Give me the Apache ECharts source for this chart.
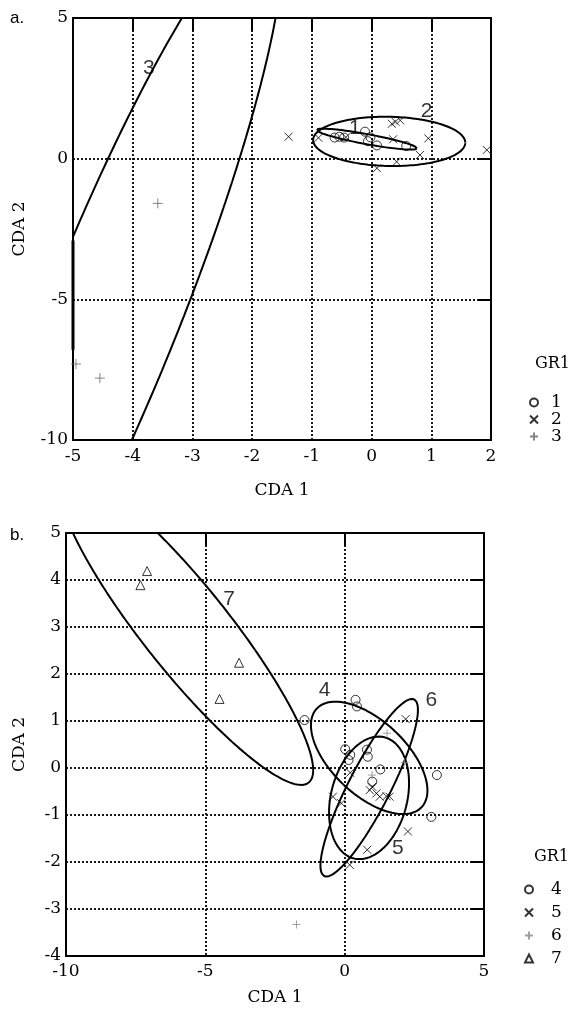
<!DOCTYPE html>
<html><head><meta charset="utf-8">
<script src="https://cdn.jsdelivr.net/npm/echarts@6/dist/echarts.min.js"></script>
<style>html,body{margin:0;padding:0;background:#fff}#c{width:577px;height:1009px}</style>
</head><body><div id="c"></div><script>
// ---------- Panel a ----------
const aGroups = ['1', '2', '3'];
const aG1 = [[-0.62,0.75],[-0.54,0.78],[-0.46,0.75],[-0.11,0.96],[-0.02,0.76],[-0.06,0.62],[0.09,0.47],[0.58,0.45]];
const aG2 = [[-1.39,0.78],[-0.89,0.74],[-0.43,0.76],[0.34,1.24],[0.40,1.31],[0.48,1.36],[0.36,0.69],[0.95,0.72],[0.81,0.13],[0.42,-0.11],[0.09,-0.34],[1.93,0.31]];
const aG3 = [[-3.58,-1.59],[-4.95,-7.3],[-4.55,-7.8]];
// ellipse: [cx, cy, varX, varY, covXY]
const aEll1 = [-0.08, 0.695, 0.706, 0.138, -0.273];
const aEll2 = [0.295, 0.615, 1.626, 0.766, -0.06];
const aEll3 = [-4.34, -5.58, 8.05, 195, 35.9];
const aLabelNames = ['1', '2', '3'];
const aLabelPos = [[-0.28,1.10],[0.92,1.70],[-3.73,3.22]];
const aX = [-5, 2, 1];   // min, max, interval
const aY = [-10, 5, 5];

// ---------- Panel b ----------
const bGroups = ['4', '5', '6', '7'];
const bG4 = [[-1.44,1.02],[0.39,1.45],[0.44,1.31],[0.02,0.40],[0.20,0.28],[0.14,0.17],[0.80,0.39],[0.83,0.24],[1.28,-0.03],[0.99,-0.29],[3.31,-0.15],[3.11,-1.04]];
const bG5 = [[2.19,1.04],[0.20,-0.10],[-0.42,-0.61],[-0.12,-0.75],[0.90,-0.47],[1.14,-0.54],[1.26,-0.61],[1.50,-0.60],[1.61,-0.61],[2.27,-1.35],[0.81,-1.74],[0.18,-2.06],[0.99,-0.40]];
const bG6 = [[1.52,0.74],[2.15,0.12],[0.98,-0.15],[-1.73,-3.33]];
const bG7 = [[-7.09,4.19],[-7.33,3.89],[-3.79,2.24],[-4.49,1.47]];
const bEll4 = [0.88, 0.215, 4.37, 1.43, -1.45];
const bEll5 = [0.875, -0.635, 2.06, 1.70, 0.45];
const bEll6 = [0.88, -0.42, 3.06, 3.57, 2.9];
const bEll7 = [-5.68, 2.95, 20.7, 10.96, -13.63];
const bLabelNames = ['7', '4', '6', '5'];
const bLabelPos = [[-4.15,3.6],[-0.72,1.66],[3.11,1.45],[1.91,-1.71]];
const bX = [-10, 5, 5];
const bY = [-4, 5, 1];

// ---------- helpers ----------
function ellipse(p, n) {
  n = n || 360;
  const [cx, cy, sxx, syy, sxy] = p;
  const a = Math.sqrt(sxx), b = sxy / a, d = Math.sqrt(syy - b * b);
  const pts = [];
  for (let i = 0; i <= n; i++) {
    const t = 2 * Math.PI * i / n;
    pts.push([cx + a * Math.cos(t), cy + b * Math.cos(t) + d * Math.sin(t)]);
  }
  return pts;
}
// part of ellipse 3 lying just outside the left border is drawn on the border (as in the original plot)
function borderRun(p, xmin, ymin, ymax, tol) {
  const ys = ellipse(p).filter(q => q[0] < xmin && q[0] > xmin - tol && q[1] > ymin && q[1] < ymax).map(q => q[1]);
  if (!ys.length) return [];
  return [[xmin, Math.max.apply(null, ys)], [xmin, Math.min.apply(null, ys)]];
}

const SERIF = 'DejaVu Serif';
const SANS = 'Liberation Sans';
const grid = [
  { left: 73, top: 18, width: 418, height: 422 },
  { left: 66, top: 533, width: 418, height: 423 }
];
const gridLine = { show: true, lineStyle: { color: '#000', type: [2, 2], width: 1.8 } };
const axLine = { show: true, onZero: false, lineStyle: { color: '#000', width: 2 } };

function mainX(gi, r, gap, margin) {
  return { type: 'value', gridIndex: gi, min: r[0], max: r[1], interval: r[2], position: 'bottom',
    axisLine: axLine, axisTick: { show: false }, splitLine: gridLine,
    axisLabel: { color: '#000', fontFamily: SERIF, fontSize: 17, margin: margin },
    name: 'CDA 1', nameLocation: 'middle', nameGap: gap,
    nameTextStyle: { color: '#000', fontFamily: SERIF, fontSize: 17 } };
}
function topX(gi, r) {
  return { type: 'value', gridIndex: gi, min: r[0], max: r[1], interval: r[2], position: 'top',
    axisLine: axLine, axisTick: { show: true, inside: true, length: 13, lineStyle: { color: '#000', width: 2 } },
    splitLine: { show: false }, axisLabel: { show: false } };
}
function mainY(gi, r, gap) {
  return { type: 'value', gridIndex: gi, min: r[0], max: r[1], interval: r[2], position: 'left',
    axisLine: axLine, axisTick: { show: false }, splitLine: gridLine,
    axisLabel: { color: '#000', fontFamily: SERIF, fontSize: 17, margin: 5 },
    name: 'CDA 2', nameLocation: 'middle', nameGap: gap, nameRotate: 90,
    nameTextStyle: { color: '#000', fontFamily: SERIF, fontSize: 17 } };
}
function rightY(gi, r) {
  return { type: 'value', gridIndex: gi, min: r[0], max: r[1], interval: r[2], position: 'right',
    axisLine: axLine, axisTick: { show: true, inside: true, length: 13, lineStyle: { color: '#000', width: 2 } },
    splitLine: { show: false }, axisLabel: { show: false } };
}

const SYM = {
  circle: { symbol: 'circle', size: 9, color: '#000' },
  cross: { symbol: 'path://M0,0L10,10M10,0L0,10', size: 8, color: '#000' },
  plus: { symbol: 'path://M5,0L5,10M0,5L10,5', size: 10, color: '#666' },
  plusLight: { symbol: 'path://M5,0L5,10M0,5L10,5', size: 8, color: '#888' },
  triangle: { symbol: 'triangle', size: 9, color: '#000' }
};
function pts(name, data, s, xi, yi) {
  return { type: 'scatter', name: name, xAxisIndex: xi, yAxisIndex: yi, data: data,
    symbol: s.symbol, symbolSize: s.size,
    itemStyle: { color: 'transparent', borderColor: s.color, borderWidth: 1 }, z: 5, silent: true };
}
function ell(data, xi, yi, w) {
  return { type: 'line', xAxisIndex: xi, yAxisIndex: yi, data: data, showSymbol: false, symbol: 'none',
    lineStyle: { color: '#000', width: w || 2 }, clip: true, z: 4, silent: true };
}
function labels(names, pos, xi, yi) {
  return { type: 'scatter', xAxisIndex: xi, yAxisIndex: yi, symbolSize: 1,
    itemStyle: { color: 'transparent' }, silent: true, z: 6,
    data: names.map((n, i) => ({ name: n, value: pos[i] })),
    label: { show: true, position: 'inside', formatter: '{b}', color: '#000', fontFamily: SANS, fontSize: 21 } };
}

const series = [
  ell(ellipse(aEll1), 0, 0), ell(ellipse(aEll2), 0, 0), ell(ellipse(aEll3), 0, 0),
  ell(borderRun(aEll3, aX[0], aY[0], aY[1], 0.8), 0, 0, 3),
  pts(aGroups[0], aG1, SYM.circle, 0, 0),
  pts(aGroups[1], aG2, SYM.cross, 0, 0),
  pts(aGroups[2], aG3, SYM.plus, 0, 0),
  labels(aLabelNames, aLabelPos, 0, 0),
  ell(ellipse(bEll4), 2, 2), ell(ellipse(bEll5), 2, 2), ell(ellipse(bEll6), 2, 2), ell(ellipse(bEll7), 2, 2),
  pts(bGroups[0], bG4, SYM.circle, 2, 2),
  pts(bGroups[1], bG5, SYM.cross, 2, 2),
  pts(bGroups[2], bG6, SYM.plusLight, 2, 2),
  pts(bGroups[3], bG7, SYM.triangle, 2, 2),
  labels(bLabelNames, bLabelPos, 2, 2)
];

const legendText = { color: '#000', fontFamily: SERIF, fontSize: 17 };
const option = {
  animation: false,
  backgroundColor: '#fff',
  title: [
    { text: 'a.', left: 10, top: 10, padding: 0, textStyle: { fontFamily: SANS, fontSize: 17, fontWeight: 'normal', color: '#000' } },
    { text: 'b.', left: 10, top: 527, padding: 0, textStyle: { fontFamily: SANS, fontSize: 17, fontWeight: 'normal', color: '#000' } },
    { text: 'GR1', left: 535, top: 356, padding: 0, textStyle: { fontFamily: SERIF, fontSize: 16, fontWeight: 'normal', color: '#000' } },
    { text: 'GR1', left: 534, top: 849, padding: 0, textStyle: { fontFamily: SERIF, fontSize: 16, fontWeight: 'normal', color: '#000' } }
  ],
  legend: [
    { data: aGroups, orient: 'vertical', left: 529, top: 394, padding: 0, itemGap: 0, itemWidth: 8, itemHeight: 8,
      textStyle: Object.assign({ lineHeight: 15, padding: [0, 0, 0, 8] }, legendText), selectedMode: false },
    { data: bGroups, orient: 'vertical', left: 524, top: 881, padding: 0, itemGap: 6, itemWidth: 8, itemHeight: 8,
      textStyle: Object.assign({ lineHeight: 16, padding: [0, 0, 0, 13] }, legendText), selectedMode: false }
  ],
  grid: grid,
  xAxis: [mainX(0, aX, 42, 8), topX(0, aX), mainX(1, bX, 33, 7), topX(1, bX)],
  yAxis: [mainY(0, aY, 45), rightY(0, aY), mainY(1, bY, 38), rightY(1, bY)],
  series: series
};
const chart = echarts.init(document.getElementById('c'), null, { renderer: 'canvas' });
chart.setOption(option);
</script></body></html>
